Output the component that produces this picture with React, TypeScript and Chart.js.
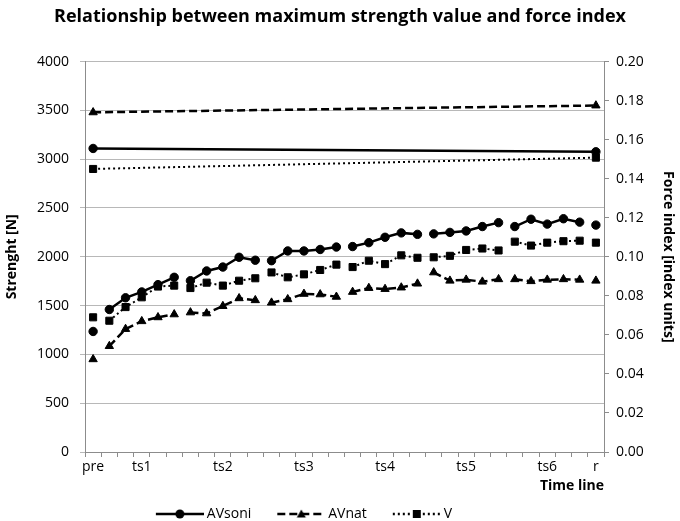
import { useEffect, useRef } from "react"
import { Chart, registerables } from "chart.js"

Chart.register(...registerables)

const timeLabels = [
  "pre", "", "", "ts1", "", "", "", "",
  "ts2", "", "", "", "", "ts3", "", "", "", "",
  "ts4", "", "", "", "", "ts5", "", "", "", "",
  "ts6", "", "", "r",
]

// maximum strength [N]
const avsoniStrength = [
  1235, 1460, 1580, 1640, 1715, 1790, 1755, 1855, 1895, 1995, 1965, 1960, 2060, 2060, 2075, 2100,
  2105, 2145, 2200, 2245, 2230, 2235, 2250, 2265, 2310, 2350, 2310, 2385, 2335, 2390, 2355, 2325,
]
const avnatStrength = [
  950, 1085, 1260, 1340, 1380, 1410, 1430, 1420, 1495, 1575, 1555, 1530, 1565, 1620, 1615, 1590,
  1640, 1680, 1670, 1685, 1725, 1840, 1755, 1765, 1745, 1770, 1770, 1750, 1765, 1770, 1765, 1755,
]
const vStrength = [
  1380, 1345, 1485, 1585, 1695, 1705, 1680, 1735, 1705, 1755, 1780, 1840, 1790, 1820, 1865, 1920,
  1895, 1960, 1925, 2015, 1990, 1995, 2010, 2070, 2085, 2065, 2155, 2115, 2145, 2160, 2165, 2145,
]

// force index at pre and r
const avsoniIndex = [0.1555, 0.1538]
const avnatIndex = [0.174, 0.1775]
const vIndex = [0.145, 0.1508]

// first category of each measuring block (pre, ts1..ts6, r)
const blockStarts = [0, 1, 6, 11, 16, 21, 26, 31]

const FONT = "'Open Sans', 'Noto Sans', sans-serif"
const INK = "#000"
const GRID = "#b8b8b8"
const AXIS = "#8c8c8c"

const SOLID: number[] = []
const DASH = [8, 4]
const DOT = [2, 3]

const LEGEND_SHIFT = 44

function ends(pair: number[]) {
  return timeLabels.map((_, i) => (i === 0 ? pair[0] : i === timeLabels.length - 1 ? pair[1] : null))
}

function inBlock(series: number[], b: number) {
  const start = blockStarts[b]
  const stop = b + 1 < blockStarts.length ? blockStarts[b + 1] : series.length
  return series.map((v, i) => (i >= start && i < stop ? v : null))
}

function legendSample(dash: number[], style: string) {
  const c = document.createElement("canvas")
  const m = 20
  c.width = 48 + m
  c.height = 14
  const g = c.getContext("2d")!
  g.strokeStyle = INK
  g.fillStyle = INK
  g.lineWidth = 2.5
  g.setLineDash(dash)
  g.beginPath()
  g.moveTo(m, 7)
  g.lineTo(m + 48, 7)
  g.stroke()
  g.setLineDash([])
  g.beginPath()
  const cx = m + 24
  if (style === "circle") {
    g.arc(cx, 7, 4.5, 0, Math.PI * 2)
  } else if (style === "triangle") {
    g.moveTo(cx, 2.5)
    g.lineTo(cx + 4.5, 10.5)
    g.lineTo(cx - 4.5, 10.5)
    g.closePath()
  } else {
    g.rect(cx - 4, 3, 8, 8)
  }
  g.fill()
  return c
}

const styles = [
  { name: "AVsoni", dash: SOLID, width: 2.5, point: "circle", radius: 4.2 },
  { name: "AVnat", dash: DASH, width: 2.5, point: "triangle", radius: 4.8 },
  { name: "V", dash: DOT, width: 2, point: "rect", radius: 5 },
]

export default function App() {
  const chartRef = useRef<HTMLCanvasElement>(null)
  const chartInstance = useRef<Chart | null>(null)

  useEffect(() => {
    if (!chartRef.current) return
    const ctx = chartRef.current.getContext("2d")
    if (!ctx) return
    if (chartInstance.current) chartInstance.current.destroy()

    const samples = styles.map((s) => legendSample(s.dash, s.point))
    const strength = [avsoniStrength, avnatStrength, vStrength]
    const index = [avsoniIndex, avnatIndex, vIndex]

    const datasets: any[] = []
    styles.forEach((s, k) => {
      blockStarts.forEach((_, b) => {
        datasets.push({
          label: s.name,
          data: inBlock(strength[k], b),
          yAxisID: "y",
          borderColor: INK,
          backgroundColor: INK,
          borderWidth: s.width,
          borderDash: s.dash,
          pointStyle: s.point,
          pointRadius: s.radius,
          pointBorderWidth: 1,
          spanGaps: false,
        })
      })
    })
    styles.forEach((s, k) => {
      datasets.push({
        label: s.name + " index",
        data: ends(index[k]),
        yAxisID: "y1",
        borderColor: INK,
        backgroundColor: INK,
        borderWidth: s.width,
        borderDash: s.dash,
        pointStyle: s.point,
        pointRadius: s.radius,
        pointBorderWidth: 1,
        spanGaps: true,
      })
    })

    chartInstance.current = new Chart(ctx, {
      type: "line",
      data: { labels: timeLabels, datasets },
      plugins: [
        {
          id: "legendShift",
          afterLayout: (chart: any) => {
            if (chart.legend) chart.legend.right -= LEGEND_SHIFT * 2
          },
        },
      ],
      options: {
        responsive: true,
        maintainAspectRatio: false,
        animation: false,
        layout: { padding: { left: 0, right: 0, top: 0, bottom: -10 } },
        scales: {
          x: {
            offset: true,
            grid: { offset: true, drawOnChartArea: false, tickLength: 5, color: AXIS },
            border: { color: AXIS },
            ticks: {
              autoSkip: false,
              maxRotation: 0,
              padding: 2,
              color: INK,
              font: { family: FONT, size: 14 },
            },
            title: {
              display: true,
              text: "Time line",
              align: "end",
              color: INK,
              padding: { top: 0, bottom: 3 },
              font: { family: FONT, size: 14, weight: "bold" },
            },
            afterFit: (s: any) => {
              s.height = 45
            },
          },
          y: {
            position: "left",
            min: 0,
            max: 4000,
            ticks: {
              stepSize: 500,
              color: INK,
              padding: 11,
              font: { family: FONT, size: 14 },
              callback: (v: any) => String(v),
            },
            grid: { color: GRID, tickLength: 5 },
            border: { color: AXIS },
            title: {
              display: true,
              text: "Strenght [N]",
              color: INK,
              padding: { top: 4, bottom: 0 },
              font: { family: FONT, size: 14, weight: "bold" },
            },
            afterFit: (s: any) => {
              s.width = 85
            },
          },
          y1: {
            position: "right",
            min: 0,
            max: 0.2,
            ticks: {
              stepSize: 0.02,
              color: INK,
              padding: 7,
              font: { family: FONT, size: 14 },
              callback: (v: any) => Number(v).toFixed(2),
            },
            grid: { drawOnChartArea: false, color: AXIS, tickLength: 5 },
            border: { color: AXIS },
            title: {
              display: true,
              text: "Force index [index units]",
              color: INK,
              padding: { top: 4, bottom: 0 },
              font: { family: FONT, size: 14, weight: "bold" },
            },
            afterFit: (s: any) => {
              s.width = 76
            },
          },
        },
        plugins: {
          title: {
            display: true,
            text: "Relationship between maximum strength value and force index",
            color: INK,
            padding: { top: 6, bottom: 34 },
            font: { family: FONT, size: 18, weight: "bold" },
          },
          legend: {
            position: "bottom",
            labels: {
              usePointStyle: true,
              pointStyleWidth: 60,
              color: INK,
              padding: 10,
              font: { family: FONT, size: 14 },
              generateLabels: () =>
                styles.map((s, i) => ({
                  text: s.name,
                  datasetIndex: i * blockStarts.length,
                  pointStyle: samples[i],
                  fillStyle: INK,
                  strokeStyle: INK,
                  lineWidth: 0,
                  fontColor: INK,
                  hidden: false,
                })),
            },
          },
          tooltip: { enabled: false },
        },
      },
    })

    return () => {
      if (chartInstance.current) {
        chartInstance.current.destroy()
        chartInstance.current = null
      }
    }
  }, [])

  return (
    <div style={{ position: "fixed", left: 0, top: 0, width: "680px", height: "521px", background: "#fff" }}>
      <canvas ref={chartRef}></canvas>
    </div>
  )
}
